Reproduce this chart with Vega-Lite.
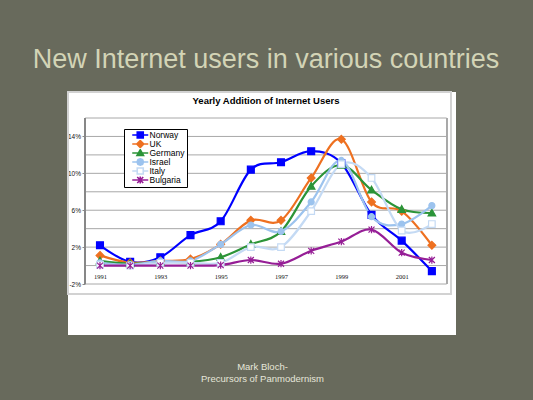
{
  "$schema": "https://vega.github.io/schema/vega-lite/v6.json",
  "width": 388,
  "height": 243,
  "autosize": {"type": "none"},
  "padding": {"left": 68, "top": 92, "right": 77, "bottom": 65},
  "background": "#686a5c",
  "title": {
    "text": "New Internet users in various countries",
    "subtitle": "Yearly Addition of Internet Users",
    "anchor": "middle",
    "frame": "group",
    "dx": 4,
    "font": "Liberation Sans",
    "fontSize": 27,
    "fontWeight": "normal",
    "color": "#d3d4b6",
    "subtitleFont": "Liberation Sans",
    "subtitleFontSize": 9.5,
    "subtitleFontWeight": "bold",
    "subtitleColor": "black",
    "subtitlePadding": 22.2,
    "offset": -15.4
  },
  "config": {
    "view": {"stroke": null, "fill": "white"},
    "axis": {"labelOverlap": false, "labelFlush": false},
    "axisX": {
      "labelFont": "Liberation Sans Narrow", "labelFontSize": 6.5, "labelColor": "#111",
      "ticks": false, "domain": false, "grid": false, "offset": -69.4, "labelPadding": 7.5,
      "labelOverlap": false,
      "titleColor": "#e6e6da", "titleFont": "Liberation Sans", "titleFontSize": 9.5,
      "titleFontWeight": "normal", "titleLineHeight": 12, "titlePadding": 82
    },
    "axisY": {
      "labelFont": "Liberation Sans", "labelFontSize": 6.5, "labelColor": "#111",
      "tickSize": 3, "tickColor": "#888", "domain": false, "offset": -17,
      "labelPadding": 1.5, "grid": false, "labelOverlap": false
    }
  },
  "datasets": {
    "series": [
      {"year": 1991, "country": "Norway", "value": 2.2},
      {"year": 1992, "country": "Norway", "value": 0.4},
      {"year": 1993, "country": "Norway", "value": 0.9},
      {"year": 1994, "country": "Norway", "value": 3.3},
      {"year": 1995, "country": "Norway", "value": 4.8},
      {"year": 1996, "country": "Norway", "value": 10.4},
      {"year": 1997, "country": "Norway", "value": 11.2},
      {"year": 1998, "country": "Norway", "value": 12.4},
      {"year": 1999, "country": "Norway", "value": 11.1},
      {"year": 2000, "country": "Norway", "value": 5.5},
      {"year": 2001, "country": "Norway", "value": 2.7},
      {"year": 2002, "country": "Norway", "value": -0.6},
      {"year": 1991, "country": "UK", "value": 1.1},
      {"year": 1992, "country": "UK", "value": 0.3},
      {"year": 1993, "country": "UK", "value": 0.5},
      {"year": 1994, "country": "UK", "value": 0.7},
      {"year": 1995, "country": "UK", "value": 2.3},
      {"year": 1996, "country": "UK", "value": 4.9},
      {"year": 1997, "country": "UK", "value": 4.9},
      {"year": 1998, "country": "UK", "value": 9.5},
      {"year": 1999, "country": "UK", "value": 13.7},
      {"year": 2000, "country": "UK", "value": 6.9},
      {"year": 2001, "country": "UK", "value": 5.9},
      {"year": 2002, "country": "UK", "value": 2.2},
      {"year": 1991, "country": "Germany", "value": 0.5},
      {"year": 1992, "country": "Germany", "value": 0.2},
      {"year": 1993, "country": "Germany", "value": 0.4},
      {"year": 1994, "country": "Germany", "value": 0.4},
      {"year": 1995, "country": "Germany", "value": 0.9},
      {"year": 1996, "country": "Germany", "value": 2.3},
      {"year": 1997, "country": "Germany", "value": 3.7},
      {"year": 1998, "country": "Germany", "value": 8.6},
      {"year": 1999, "country": "Germany", "value": 10.9},
      {"year": 2000, "country": "Germany", "value": 8.2},
      {"year": 2001, "country": "Germany", "value": 6.1},
      {"year": 2002, "country": "Germany", "value": 5.7},
      {"year": 1991, "country": "Israel", "value": 0.3},
      {"year": 1992, "country": "Israel", "value": 0.1},
      {"year": 1993, "country": "Israel", "value": 0.5},
      {"year": 1994, "country": "Israel", "value": 0.5},
      {"year": 1995, "country": "Israel", "value": 2.3},
      {"year": 1996, "country": "Israel", "value": 4.4},
      {"year": 1997, "country": "Israel", "value": 3.7},
      {"year": 1998, "country": "Israel", "value": 6.9},
      {"year": 1999, "country": "Israel", "value": 11.4},
      {"year": 2000, "country": "Israel", "value": 5.3},
      {"year": 2001, "country": "Israel", "value": 4.5},
      {"year": 2002, "country": "Israel", "value": 6.5},
      {"year": 1991, "country": "Italy", "value": 0.1},
      {"year": 1992, "country": "Italy", "value": 0.0},
      {"year": 1993, "country": "Italy", "value": 0.3},
      {"year": 1994, "country": "Italy", "value": 0.3},
      {"year": 1995, "country": "Italy", "value": 0.3},
      {"year": 1996, "country": "Italy", "value": 2.0},
      {"year": 1997, "country": "Italy", "value": 2.0},
      {"year": 1998, "country": "Italy", "value": 5.9},
      {"year": 1999, "country": "Italy", "value": 11.0},
      {"year": 2000, "country": "Italy", "value": 9.5},
      {"year": 2001, "country": "Italy", "value": 3.8},
      {"year": 2002, "country": "Italy", "value": 4.5},
      {"year": 1991, "country": "Bulgaria", "value": 0.0},
      {"year": 1992, "country": "Bulgaria", "value": 0.0},
      {"year": 1993, "country": "Bulgaria", "value": 0.0},
      {"year": 1994, "country": "Bulgaria", "value": 0.0},
      {"year": 1995, "country": "Bulgaria", "value": 0.05},
      {"year": 1996, "country": "Bulgaria", "value": 0.6},
      {"year": 1997, "country": "Bulgaria", "value": 0.2},
      {"year": 1998, "country": "Bulgaria", "value": 1.6},
      {"year": 1999, "country": "Bulgaria", "value": 2.6},
      {"year": 2000, "country": "Bulgaria", "value": 3.9},
      {"year": 2001, "country": "Bulgaria", "value": 1.4},
      {"year": 2002, "country": "Bulgaria", "value": 0.6}
    ]
  },
  "data": {"name": "series"},
  "layer": [
    {
      "mark": {"type": "rect", "fill": null, "stroke": "#d2d2d2", "strokeWidth": 1.2},
      "encoding": {
        "x": {"datum": 1989.94, "type": "quantitative", "scale": {"domain": [1989.94, 2002.8], "nice": false, "zero": false}},
        "x2": {"datum": 2002.63},
        "y": {"datum": 18.82, "type": "quantitative", "scale": {"domain": [-7.53, 18.82], "nice": false, "zero": false}},
        "y2": {"datum": -3.08}
      }
    },
    {
      "data": {"values": [
        {"gridpct": -2}, {"gridpct": 0}, {"gridpct": 2}, {"gridpct": 4}, {"gridpct": 6},
        {"gridpct": 8}, {"gridpct": 10}, {"gridpct": 12}, {"gridpct": 14}, {"gridpct": 16}
      ]},
      "mark": {"type": "rule", "color": "#a8a8a8", "strokeWidth": 1},
      "encoding": {
        "x": {"datum": 1990.51, "type": "quantitative"},
        "x2": {"datum": 2002.49},
        "y": {"field": "gridpct", "type": "quantitative"}
      }
    },
    {
      "mark": {"type": "rule", "color": "#a8a8a8", "strokeWidth": 1},
      "encoding": {
        "x": {"datum": 2002.49, "type": "quantitative"},
        "y": {"datum": 16, "type": "quantitative"},
        "y2": {"datum": -2}
      }
    },
    {
      "mark": {"type": "rule", "color": "#888888", "strokeWidth": 1},
      "encoding": {
        "x": {"datum": 1990.5, "type": "quantitative"},
        "y": {"datum": 16, "type": "quantitative"},
        "y2": {"datum": -2}
      }
    },
    {
      "mark": {"type": "line", "interpolate": "cardinal", "strokeWidth": 2.2},
      "encoding": {
        "x": {
          "field": "year", "type": "quantitative",
          "scale": {"domain": [1989.94, 2002.8], "nice": false, "zero": false},
          "axis": {
            "values": [1991, 1992, 1993, 1994, 1995, 1996, 1997, 1998, 1999, 2000, 2001, 2002],
            "format": "d", "labelOverlap": false, "labelFlush": false, "labelSeparation": -30,
            "title": ["Mark Bloch-", "Precursors of Panmodernism"]
          }
        },
        "y": {
          "field": "value", "type": "quantitative",
          "scale": {"domain": [-7.53, 18.82], "nice": false, "zero": false},
          "axis": {
            "values": [-2, 0, 2, 4, 6, 8, 10, 12, 14, 16],
            "labelExpr": "datum.value + '%'", "labelOverlap": false, "labelFlush": false, "labelSeparation": -30,
            "title": null
          }
        },
        "color": {
          "field": "country", "type": "nominal",
          "scale": {
            "domain": ["Norway", "UK", "Germany", "Israel", "Italy", "Bulgaria"],
            "range": ["#0000ff", "#ee7020", "#2b9438", "#9cc3ee", "#c4daf4", "#961e96"]
          },
          "legend": {
            "orient": "none", "legendX": 56, "legendY": 37, "title": null,
            "fillColor": "white", "strokeColor": "black", "padding": 2, "rowPadding": -1.2,
            "clipHeight": 8,
            "labelFont": "Liberation Sans", "labelFontSize": 8.5, "labelColor": "black",
            "symbolSize": 25, "symbolOffset": 10, "labelOffset": 5, "cornerRadius": 0,
            "encode": {
              "symbols": {
                "update": {
                  "shape": {"signal": "datum.value === 'Norway' ? 'M-3.2,0L3.2,0M-1.2,-1.2L1.2,-1.2L1.2,1.2L-1.2,1.2Z' : datum.value === 'UK' ? 'M-3.2,0L3.2,0M0,-1.4L1.4,0L0,1.4L-1.4,0Z' : datum.value === 'Germany' ? 'M-3.2,0L3.2,0M0,-1.3L1.3,1L-1.3,1Z' : datum.value === 'Israel' ? 'M-3.2,0L3.2,0M1.3,0L0.92,0.92L0,1.3L-0.92,0.92L-1.3,0L-0.92,-0.92L0,-1.3L0.92,-0.92Z' : datum.value === 'Italy' ? 'M-3.2,0L-1.2,0M1.2,0L3.2,0M-1.2,-1.2L1.2,-1.2L1.2,1.2L-1.2,1.2Z' : 'M-3.2,0L3.2,0M-1.2,-1.2L1.2,1.2M-1.2,1.2L1.2,-1.2M0,-1.4L0,1.4'"},
                  "fill": {"signal": "datum.value === 'Italy' ? 'white' : datum.value === 'Bulgaria' ? 'transparent' : scale('color', datum.value)"},
                  "stroke": {"signal": "scale('color', datum.value)"},
                  "strokeWidth": {"value": 1.6},
                  "opacity": {"value": 1}
                }
              }
            }
          }
        }
      }
    },
    {
      "mark": {"type": "point", "size": 36, "strokeWidth": 1.2, "opacity": 1},
      "encoding": {
        "x": {"field": "year", "type": "quantitative"},
        "y": {"field": "value", "type": "quantitative"},
        "shape": {
          "field": "country", "type": "nominal", "legend": null,
          "scale": {
            "domain": ["Bulgaria", "Germany", "Israel", "Italy", "Norway", "UK"],
            "range": [
              "M-1,-1L1,1M-1,1L1,-1M0,-1.2V1.2",
              "M0,-1.25L1.25,1L-1.25,1Z",
              "circle",
              "M-1.1,-1.1H1.1V1.1H-1.1Z",
              "M-1.15,-1.15H1.15V1.15H-1.15Z",
              "M0,-1.3L1.3,0L0,1.3L-1.3,0Z"
            ]
          }
        },
        "fill": {
          "field": "country", "type": "nominal", "legend": null,
          "scale": {
            "domain": ["Bulgaria", "Germany", "Israel", "Italy", "Norway", "UK"],
            "range": ["transparent", "#2b9438", "#9cc3ee", "white", "#0000ff", "#ee7020"]
          }
        },
        "stroke": {
          "field": "country", "type": "nominal", "legend": null,
          "scale": {
            "domain": ["Bulgaria", "Germany", "Israel", "Italy", "Norway", "UK"],
            "range": ["#961e96", "#2b9438", "#9cc3ee", "#c4daf4", "#0000ff", "#ee7020"]
          }
        }
      }
    }
  ]
}
